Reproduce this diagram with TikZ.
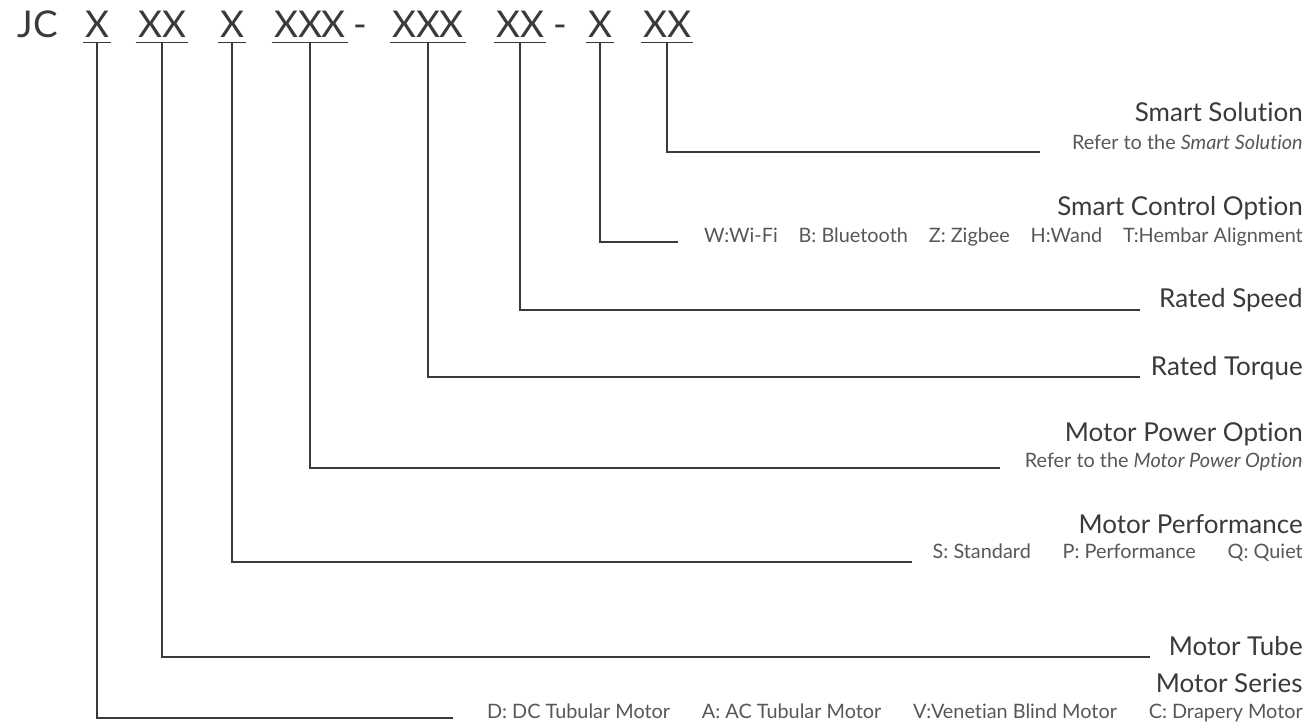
\documentclass[tikz,border=0pt]{standalone}
\usepackage{fontspec}
\setmainfont[Ligatures=NoCommon]{Lato}
\usepackage{xcolor}
\usetikzlibrary{positioning}
\definecolor{inkgray}{HTML}{3A3A3A}

\begin{document}
\begin{tikzpicture}[x=0.02cm,y=-0.02cm,
  code/.style={font=\fontsize{21}{24}\selectfont,text=inkgray,anchor=base,
               inner xsep=1pt,inner ysep=3pt},
  ttl/.style={font=\fontsize{14.8}{17}\selectfont,text=inkgray,anchor=base east,
              inner sep=0pt},
  sub/.style={font=\fontsize{11.3}{13}\selectfont,text=inkgray!85,anchor=base east,
              inner sep=0pt},
  uline/.style={draw=inkgray,line width=0.7pt},
  lead/.style={draw=inkgray,line width=0.6pt}
]
\useasboundingbox (0,0) rectangle (1308,727);

% model code
\node[code] (jc)   at (38,37)  {JC};
\node[code] (ser)  at (97,37)  {X};
\node[code] (tub)  at (162,37) {XX};
\node[code] (perf) at (232,37) {X};
\node[code] (pow)  at (310,37) {XXX};
\node[code] (d1)   at (360,37) {-};
\node[code] (torq) at (428,37) {XXX};
\node[code] (spd)  at (520,37) {XX};
\node[code] (d2)   at (560,37) {-};
\node[code] (ctl)  at (600,37) {X};
\node[code] (sol)  at (667,37) {XX};
\foreach \n in {ser,tub,perf,pow,torq,spd,ctl,sol}
  \draw[uline] (\n.south west) -- (\n.south east);

% descriptions
\node[ttl] (solT)  at (1303,121) {Smart Solution};
\node[sub] (solS)  at (1303,149) {Refer to the \textit{Smart Solution}};
\node[ttl] (ctlT)  at (1303,215) {Smart Control Option};
\node[sub] (ctlS)  at (1303,242) {W:Wi-Fi\hspace{1.05em}B: Bluetooth\hspace{1.05em}Z: Zigbee\hspace{1.05em}H:Wand\hspace{1.05em}T:Hembar Alignment};
\node[ttl] (spdT)  at (1303,307) {Rated Speed};
\node[ttl] (torqT) at (1303,375) {Rated Torque};
\node[ttl] (powT)  at (1303,441) {Motor Power Option};
\node[sub] (powS)  at (1303,467) {Refer to the \textit{Motor Power Option}};
\node[ttl] (perfT) at (1303,533) {Motor Performance};
\node[sub] (perfS) at (1303,558) {S: Standard\hspace{1.6em}P: Performance\hspace{1.6em}Q: Quiet};
\node[ttl] (tubT)  at (1303,655) {Motor Tube};
\node[ttl] (serT)  at (1303,692) {Motor Series};
\node[sub] (serS)  at (1303,718) {D: DC Tubular Motor\hspace{1.6em}A: AC Tubular Motor\hspace{1.6em}V:Venetian Blind Motor\hspace{1.6em}C: Drapery Motor};

% leader ends
\coordinate (solE)  at (1040,152);
\coordinate (ctlE)  at (678,242);
\coordinate (spdE)  at (1140,310);
\coordinate (torqE) at (1140,377);
\coordinate (powE)  at (1000,468);
\coordinate (perfE) at (912,562);
\coordinate (tubE)  at (1150,657);
\coordinate (serE)  at (453,718);

\draw[lead] (sol.south)  |- (solE);
\draw[lead] (ctl.south)  |- (ctlE);
\draw[lead] (spd.south)  |- (spdE);
\draw[lead] (torq.south) |- (torqE);
\draw[lead] (pow.south)  |- (powE);
\draw[lead] (perf.south) |- (perfE);
\draw[lead] (tub.south)  |- (tubE);
\draw[lead] (ser.south)  |- (serE);
\end{tikzpicture}
\end{document}
